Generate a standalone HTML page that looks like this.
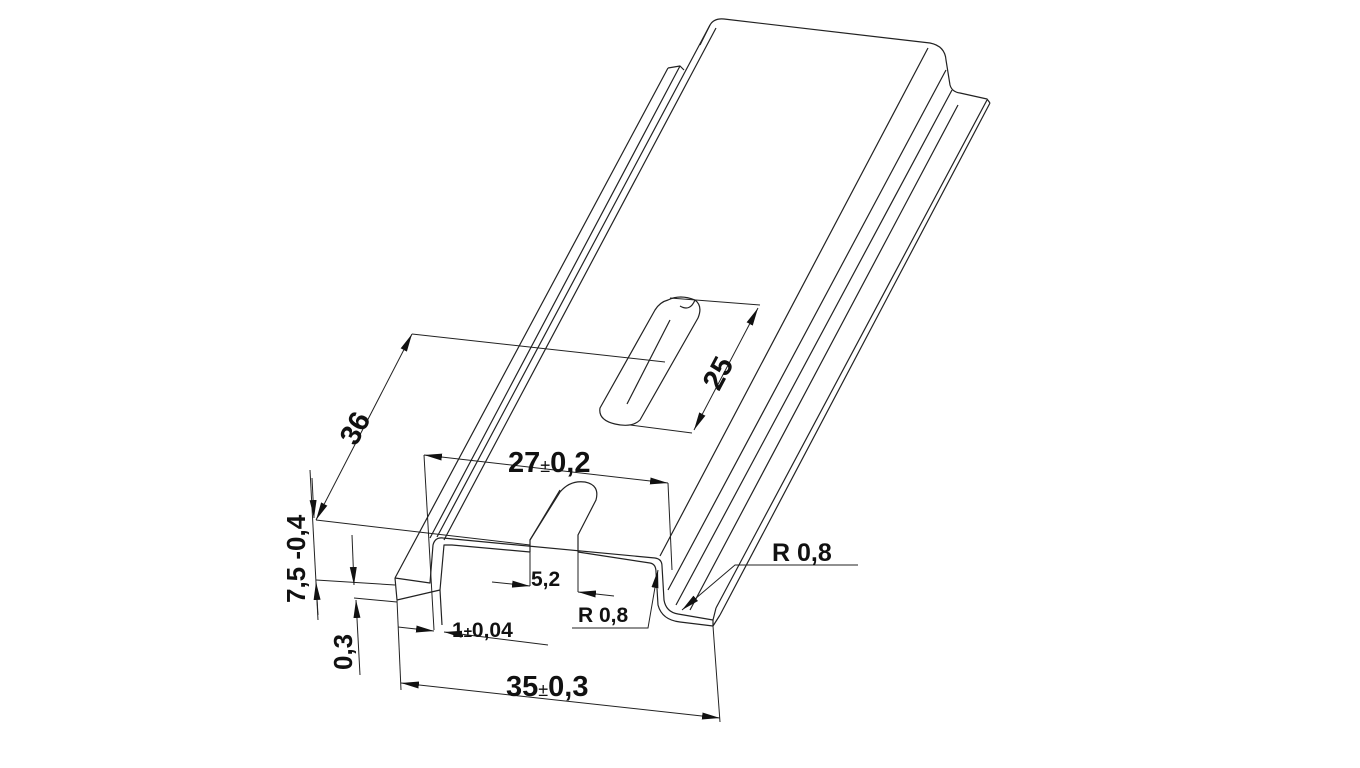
<!DOCTYPE html>
<html><head><meta charset="utf-8"><style>
html,body{margin:0;padding:0;background:#fff;}
svg{display:block;}
text{font-family:"Liberation Sans",Arial,sans-serif;font-weight:bold;fill:#111;}
</style></head><body>
<svg width="1360" height="768" viewBox="0 0 1360 768" xmlns="http://www.w3.org/2000/svg">
<defs>
<marker id="ar" markerWidth="18" markerHeight="10" refX="18" refY="5" orient="auto-start-reverse" markerUnits="userSpaceOnUse">
<path d="M0,1.5 L18,5 L0,8.5 Z" fill="#111"/>
</marker>
</defs>
<g fill="none" stroke="#222" stroke-width="1.2" stroke-linejoin="round">
<path d="M700,45 L710,25 Q714,18 724,19 L930,43 Q945,46 946,60 L950,85 Q952,92 960,93 L987,99 L990,103"/>
<path d="M668,68 L680,66 L684,70"/>
<line x1="710" y1="25" x2="437" y2="537"/>
<line x1="716" y1="28" x2="444" y2="540"/>
<line x1="668" y1="68" x2="395" y2="578"/>
<line x1="680" y1="66" x2="430" y2="538"/>
<line x1="928" y1="48" x2="660" y2="556"/>
<line x1="946" y1="70" x2="668" y2="590"/>
<line x1="952" y1="90" x2="676" y2="605"/>
<line x1="958" y1="105" x2="690" y2="610"/>
<line x1="987" y1="100" x2="716" y2="608"/>
<line x1="990" y1="103" x2="720" y2="615"/>
<path d="M395,578 L430,583 L433,545 Q435,537 443,538 L655,558 Q662,559 662,566 L664,600 Q666,612 678,614 L713,620 L716,608"/>
<path d="M397,600 L440,590 L442,625 M395,578 L397,600 M440,590 L444,545 Q445,545 452,545 L530,552"/>
<path d="M578,552 L650,563 Q656,564 656,572 L658,605 Q662,620 680,622 L713,626 L720,615 M713,620 L713,626"/>
<path d="M530,552 L530,540 L560,492 Q570,480 585,482 Q600,485 596,500 L578,535 L578,552"/>
<path d="M530,540 L560,490"/>
<path d="M668,300 Q680,294 695,300 Q703,306 698,318 L640,420 Q632,428 615,424 Q598,420 600,408 L655,310 Q660,302 668,300 Z"/>
<path d="M695,300 Q690,312 680,306"/>
<line x1="670" y1="320" x2="627" y2="404"/>
</g>
<g fill="none" stroke="#222" stroke-width="1">
<line x1="670" y1="298" x2="760" y2="305"/>
<line x1="630" y1="425" x2="692" y2="433"/>
<line x1="758" y1="308" x2="694" y2="430" marker-start="url(#ar)" marker-end="url(#ar)"/>
<line x1="412" y1="334" x2="665" y2="362"/>
<line x1="412" y1="334" x2="316" y2="520" marker-start="url(#ar)" marker-end="url(#ar)"/>
<line x1="316" y1="520" x2="530" y2="545"/>
<line x1="424" y1="455" x2="668" y2="483" marker-start="url(#ar)" marker-end="url(#ar)"/>
<line x1="424" y1="455" x2="434" y2="630"/>
<line x1="668" y1="483" x2="672" y2="570"/>
<line x1="310" y1="470" x2="318" y2="620"/>
<line x1="312" y1="478" x2="314" y2="518" marker-end="url(#ar)"/>
<line x1="318" y1="615" x2="316" y2="582" marker-end="url(#ar)"/>
<line x1="316" y1="580" x2="395" y2="585"/>
<line x1="352" y1="535" x2="354" y2="585" marker-end="url(#ar)"/>
<line x1="360" y1="675" x2="356" y2="600" marker-end="url(#ar)"/>
<line x1="354" y1="598" x2="397" y2="602"/>
<line x1="397" y1="600" x2="401" y2="690"/>
<line x1="713" y1="626" x2="720" y2="722"/>
<line x1="401" y1="683" x2="720" y2="718" marker-start="url(#ar)" marker-end="url(#ar)"/>
<line x1="398" y1="627" x2="434" y2="631" marker-end="url(#ar)"/>
<line x1="548" y1="645" x2="444" y2="632" marker-end="url(#ar)"/>
<line x1="492" y1="582" x2="530" y2="586" marker-end="url(#ar)"/>
<line x1="614" y1="596" x2="578" y2="592" marker-end="url(#ar)"/>
<line x1="530" y1="552" x2="530" y2="586"/>
<line x1="578" y1="552" x2="578" y2="592"/>
<path d="M572,628 L648,628 L658,570" marker-end="url(#ar)"/>
<path d="M858,565 L735,565 L682,610" marker-end="url(#ar)"/>
</g>
<text x="0" y="0" font-size="29" transform="translate(719,392) rotate(-62)">25</text>
<text x="0" y="0" font-size="29" transform="translate(356,447) rotate(-62)">36</text>
<text x="508" y="472" font-size="29">27<tspan font-size="18" font-weight="normal">±</tspan>0,2</text>
<text x="506" y="696" font-size="29">35<tspan font-size="18" font-weight="normal">±</tspan>0,3</text>
<text x="452" y="637" font-size="21" font-weight="normal">1<tspan font-size="15">±</tspan>0,04</text>
<text x="531" y="586" font-size="21" font-weight="normal">5,2</text>
<text x="578" y="622" font-size="21" font-weight="normal">R 0,8</text>
<text x="772" y="561" font-size="25" font-weight="normal">R 0,8</text>
<text x="0" y="0" font-size="26" transform="translate(305,603) rotate(-90)">7,5 -0,4</text>
<text x="0" y="0" font-size="26" transform="translate(352,670) rotate(-90)">0,3</text>
</svg>
</body></html>
